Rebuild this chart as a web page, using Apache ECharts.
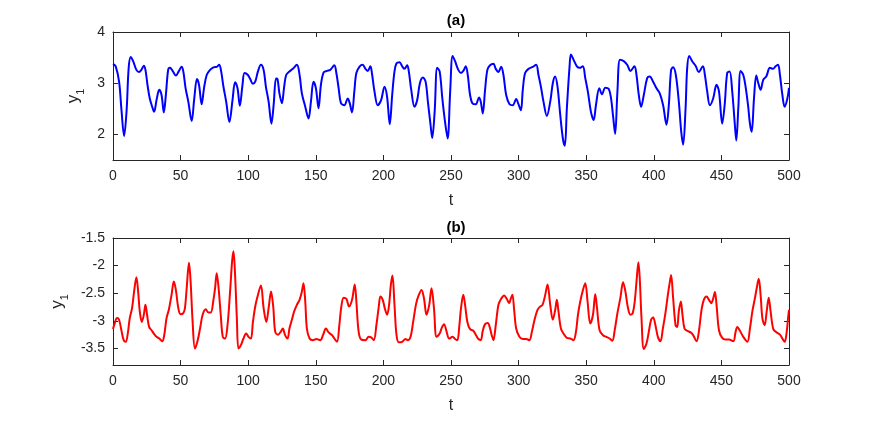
<!DOCTYPE html>
<html>
<head>
<meta charset="utf-8">
<script src="https://cdn.jsdelivr.net/npm/echarts@6/dist/echarts.min.js"></script>
<style>
  html, body { margin: 0; padding: 0; background: #fff; }
  #main { width: 872px; height: 433px; }
</style>
</head>
<body>
<div id="main"></div>
<script>
// panel (a): y1 over t
var tA = [0, 2, 4.5, 6.2, 8.2, 10, 11.6, 13.1, 14.9, 17.3, 19.3, 21, 22.8, 24, 25.5, 27.2, 29, 30.4, 32.2, 34.2,
  35.9, 37.6, 39.1, 40.8, 42.1, 44.1, 46.5, 48.8, 50.7, 52, 53.7, 55.7, 58.2, 60.1, 62.1, 63.6, 65.6, 67.3, 69.3, 71.8,
  74.3, 76.7, 78.5, 80, 81.7, 83.7, 86.1, 88.4, 90.3, 92.1, 93.8, 95.8, 97.3, 99.8, 101.5, 103.5, 105.2, 107.2, 109.4, 111.4,
  113.1, 115.1, 117.2, 118.8, 120.6, 121.7, 123.1, 124.9, 126.6, 128.1, 130.5, 133, 136, 138, 139.7, 142.2, 144.6, 146.4, 148.3, 150.1,
  152, 153.8, 155.8, 158.2, 160.7, 163.7, 165.2, 166.9, 168.6, 171.1, 173.6, 175.1, 176.8, 178.5, 180, 182.5, 184.7, 186.7, 188.4, 190.4,
  191.6, 193.4, 195.8, 198.3, 200.8, 202.7, 204.7, 206.5, 208.2, 209.7, 211.9, 213.9, 215.6, 217.6, 218.8, 220.6, 223, 225, 227, 229.2,
  231.2, 232.9, 234.9, 236.1, 237.9, 239.8, 241.6, 243.6, 245.8, 247.5, 249.4, 251.2, 253, 255.4, 257.4, 259.1, 260.9, 262.4, 264.1, 265.8,
  268.3, 270.7, 272, 273.5, 275.2, 276.9, 278.9, 281.4, 283.1, 285.1, 287.1, 288.8, 290.8, 293.3, 295.7, 298.2, 299.9, 301.7, 303.1, 304.8,
  307.3, 310.5, 313, 314.7, 316.5, 318.4, 320.9, 323.4, 325.3, 327, 328.8, 330.8, 332.8, 334.2, 335.7, 337.7, 338.7, 340.6, 343.1, 345.1,
  347.5, 349.3, 351.2, 353.5, 355.5, 357.2, 359.7, 361.7, 364.1, 366.6, 368.3, 369.9, 371.4, 373.1, 375, 377.8, 380.3, 382.8, 385.7, 387.2,
  388.9, 390.6, 392.6, 395.1, 397, 399.5, 402, 404.4, 406.9, 409.4, 411.1, 412.8, 414.3, 416.3, 418.5, 420.3, 421.7, 423.5, 424.7, 426.2,
  428.4, 430.9, 433.3, 436.3, 437.8, 439.5, 441.5, 443.9, 446.4, 448.2, 450.6, 452.4, 454.3, 456.1, 458, 459.8, 461, 462.5, 464.2, 466.2,
  467.9, 469.7, 471.1, 472.4, 474.1, 475.8, 477.3, 479, 481, 483.2, 485.9, 488.2, 490.1, 491.9, 493.3, 495.1, 496.8, 498.8, 500];
var yA = [3.375, 3.33, 3.03, 2.5, 1.97, 2.44, 3.3, 3.51, 3.43, 3.26, 3.22, 3.26, 3.34, 3.26, 2.97, 2.7, 2.54, 2.44, 2.67, 2.87,
  2.77, 2.43, 2.77, 3.26, 3.3, 3.24, 3.15, 3.24, 3.32, 3.23, 2.9, 2.64, 2.26, 2.7, 3.08, 2.97, 2.59, 2.9, 3.16, 3.26,
  3.31, 3.32, 3.36, 3.23, 2.93, 2.64, 2.24, 2.67, 3.02, 2.9, 2.56, 2.97, 3.2, 3.16, 3.08, 2.99, 3.03, 3.23, 3.36, 3.26,
  2.93, 2.64, 2.21, 2.57, 3.09, 3.08, 2.8, 2.61, 2.93, 3.16, 3.23, 3.28, 3.36, 3.16, 2.8, 2.54, 2.31, 2.64, 3.03, 2.9,
  2.51, 2.97, 3.21, 3.24, 3.26, 3.35, 3.2, 2.9, 2.61, 2.57, 2.7, 2.61, 2.43, 2.84, 3.2, 3.33, 3.36, 3.28, 3.24, 3.33,
  3.18, 2.84, 2.57, 2.67, 2.93, 2.74, 2.2, 2.77, 3.23, 3.39, 3.41, 3.33, 3.28, 3.35, 3.23, 2.87, 2.54, 2.67, 3.0, 3.11,
  3.03, 2.64, 2.18, 1.93, 2.44, 3.3, 3.23, 2.7, 2.2, 1.92, 2.84, 3.53, 3.43, 3.26, 3.2, 3.24, 3.33, 3.16, 2.77, 2.61,
  2.59, 2.72, 2.64, 2.41, 2.87, 3.26, 3.35, 3.38, 3.28, 3.22, 3.32, 3.16, 2.77, 2.59, 2.57, 2.69, 2.59, 2.47, 2.87, 3.2,
  3.28, 3.32, 3.36, 3.16, 2.93, 2.64, 2.36, 2.64, 3.0, 3.13, 2.93, 2.38, 1.91, 1.78, 2.51, 3.33, 3.56, 3.46, 3.33, 3.3,
  3.33, 3.1, 2.84, 2.44, 2.28, 2.57, 2.9, 2.78, 2.91, 2.89, 2.72, 2.35, 2.01, 2.84, 3.46, 3.43, 3.36, 3.24, 3.33, 3.16,
  2.77, 2.54, 2.77, 3.1, 3.13, 3.03, 2.9, 2.8, 2.57, 2.19, 2.57, 3.26, 3.31, 3.16, 2.64, 2.05, 1.8, 2.51, 3.3, 3.53,
  3.43, 3.34, 3.22, 3.33, 3.16, 2.84, 2.57, 2.7, 2.97, 2.84, 2.21, 2.57, 3.2, 3.23, 2.84, 2.24, 1.88, 2.51, 3.24, 3.16,
  2.93, 2.57, 2.21, 2.05, 2.7, 3.15, 3.0, 2.87, 3.07, 3.13, 3.3, 3.28, 3.33, 3.36, 3.16, 2.77, 2.54, 2.7, 2.91];

// panel (b): y1 over t
var tB = [0, 1.2, 3, 4.5, 6.2, 7.9, 9.4, 11.1, 12.4, 14.1, 15.6, 17.3, 18.6, 19.8, 21.3, 22.8, 24, 25.2, 26.7, 28.5,
  30.2, 32.2, 34.2, 36.4, 37.9, 39.6, 41.3, 43.3, 45, 46.5, 48.3, 50, 52, 53.2, 54.5, 56.2, 57.4, 58.9, 60.6, 62.4,
  64.4, 66.3, 68.6, 70.5, 72.3, 74.3, 75.5, 76.7, 78, 79.7, 81.2, 82.9, 84.7, 86.6, 88.1, 89.1, 90.3, 91.6, 92.8, 94.6,
  96.5, 98.5, 100.2, 102, 103.5, 105.2, 106.9, 109.4, 111.4, 113.4, 115.1, 116.9, 118.5, 120, 122.1, 124, 125.6, 127.3, 129.1, 130.5,
  132.3, 134, 136, 138, 139.7, 140.9, 142.2, 143.4, 145.4, 147.9, 150.3, 153.3, 155.3, 157.5, 159.5, 162, 163.7, 165.7, 167.4, 168.9,
  170.6, 172.6, 174.6, 176.8, 178.8, 180, 181.7, 183.7, 186.7, 189.1, 190.9, 192.9, 194.8, 196.6, 197.8, 199.5, 201, 202.7, 204.2, 205.5,
  206.7, 208.2, 209.7, 211.4, 213.9, 216.3, 218.1, 220.1, 222, 224.3, 226.2, 228.2, 230, 231.9, 233.9, 235.6, 237.4, 239.3, 241.6, 243.3,
  244.8, 246.8, 248.6, 251.2, 253, 254.7, 256.2, 257.4, 259.1, 260.4, 262.1, 264.1, 266.5, 268.5, 270.3, 272, 273.5, 275.2, 277.2, 278.9,
  280.1, 281.4, 283.1, 285.1, 287.1, 289.3, 291.2, 293, 294.2, 295.4, 296.7, 298.2, 300.6, 303.1, 305.6, 308, 309.8, 311.8, 314, 316,
  317.7, 319.7, 321.4, 323.4, 325.3, 327.1, 328.3, 329.5, 331.3, 333.2, 335.7, 338.2, 340.6, 342.4, 343.9, 345.6, 347.6, 349.3, 351, 353,
  355, 356.7, 358, 359.9, 362.4, 364.9, 367.3, 369.3, 371.2, 373.1, 375.3, 377.3, 379, 380.7, 382.7, 384.4, 385.9, 387.2, 388.6, 389.6,
  390.9, 392.6, 394.6, 396.3, 398, 399.5, 401.2, 403, 404.9, 406.7, 408.6, 410.4, 411.9, 412.8, 414.3, 416.1, 417.3, 418.5, 420, 421.2,
  422.7, 424.7, 427.2, 429.1, 431.6, 433.3, 435.3, 437, 439, 440.8, 442.5, 444, 445.2, 446.4, 448.2, 450.6, 453.1, 455.6, 458.8, 460.5,
  461.8, 463.7, 466.2, 469.2, 471.1, 472.9, 474.8, 476.1, 477.6, 479, 480.3, 482, 483.5, 485, 486.4, 488.4, 490.9, 493.3, 495.1, 496.8,
  498.3, 499.3, 500];
var yB = [-3.15, -3.05, -2.95, -2.98, -3.17, -3.35, -3.38, -3.2, -2.95, -2.77, -2.47, -2.21, -2.47, -2.83, -3.02, -2.89, -2.71, -2.89, -3.11, -3.17,
  -3.23, -3.29, -3.32, -3.37, -3.26, -2.95, -2.8, -2.53, -2.29, -2.44, -2.77, -2.88, -2.86, -2.77, -2.41, -1.95, -2.29, -3.02, -3.5, -3.38,
  -3.14, -2.89, -2.79, -2.85, -2.85, -2.62, -2.41, -2.14, -2.38, -2.89, -3.29, -3.32, -3.08, -2.47, -1.92, -1.74, -2.17, -2.95, -3.5, -3.44,
  -3.32, -3.23, -3.29, -3.32, -3.02, -2.74, -2.56, -2.36, -2.77, -3.02, -2.77, -2.47, -2.74, -3.2, -3.25, -3.2, -3.14, -3.26, -3.32, -3.14,
  -2.98, -2.83, -2.71, -2.62, -2.47, -2.32, -2.65, -3.14, -3.32, -3.35, -3.33, -3.35, -3.26, -3.14, -3.21, -3.26, -3.32, -3.38, -3.08, -2.74,
  -2.58, -2.6, -2.74, -2.62, -2.34, -2.65, -3.2, -3.34, -3.35, -3.29, -3.3, -3.35, -3.08, -2.74, -2.56, -2.62, -2.77, -2.89, -2.71, -2.35,
  -2.18, -2.71, -3.26, -3.39, -3.38, -3.33, -3.35, -3.29, -3.02, -2.68, -2.53, -2.44, -2.59, -2.89, -2.71, -2.41, -2.77, -3.29, -3.23, -3.12,
  -3.06, -3.2, -3.32, -3.29, -3.33, -3.35, -3.08, -2.77, -2.53, -2.71, -3.02, -3.15, -3.18, -3.26, -3.33, -3.35, -3.18, -3.06, -3.04, -3.14,
  -3.26, -3.35, -3.08, -2.71, -2.6, -2.54, -2.6, -2.68, -2.6, -2.53, -2.8, -3.14, -3.29, -3.33, -3.33, -3.35, -3.2, -2.98, -2.8, -2.74,
  -2.71, -2.53, -2.34, -2.71, -2.98, -2.8, -2.62, -2.83, -3.14, -3.23, -3.31, -3.32, -3.35, -3.2, -2.89, -2.65, -2.44, -2.32, -2.65, -3.05,
  -2.89, -2.52, -2.77, -3.17, -3.26, -3.29, -3.32, -3.36, -3.15, -2.86, -2.58, -2.3, -2.47, -2.74, -2.89, -2.86, -2.65, -2.29, -1.94, -2.23,
  -2.95, -3.51, -3.41, -3.2, -2.98, -2.94, -3.08, -3.29, -3.37, -3.14, -2.86, -2.53, -2.29, -2.17, -2.59, -3.08, -3.11, -2.83, -2.65, -2.89,
  -3.14, -3.18, -3.21, -3.26, -3.37, -3.2, -2.8, -2.62, -2.56, -2.62, -2.68, -2.59, -2.48, -2.71, -3.17, -3.31, -3.34, -3.34, -3.37, -3.2,
  -3.11, -3.18, -3.29, -3.38, -3.14, -2.83, -2.59, -2.41, -2.24, -2.53, -2.95, -3.08, -2.83, -2.58, -2.83, -3.15, -3.21, -3.25, -3.32, -3.38,
  -3.2, -2.95, -2.8];

var xTicks = [0, 50, 100, 150, 200, 250, 300, 350, 400, 450, 500];
var yTicksA = [2, 3, 4];
var yTicksB = [-3.5, -3, -2.5, -2, -1.5];

function pairs(t, y) {
  var out = [];
  for (var i = 0; i < t.length; i++) out.push([t[i], y[i]]);
  return out;
}

var ink = '#262626';
var font = 'Liberation Sans, Arial, Helvetica, sans-serif';

function xAx(gi, pos) {
  var main = pos === 'bottom';
  return {
    type: 'value', gridIndex: gi, position: pos, min: 0, max: 500, interval: 50,
    name: main ? 't' : '', nameLocation: 'middle', nameGap: 33,
    nameTextStyle: { color: ink, fontSize: 16, fontFamily: font },
    axisLine: { show: true, onZero: false, lineStyle: { color: ink, width: 1 } },
    axisTick: { show: true, inside: true, length: 5, customValues: xTicks, lineStyle: { color: ink } },
    axisLabel: { show: main, color: ink, fontSize: 14, fontFamily: font, margin: 9, customValues: xTicks },
    splitLine: { show: false }
  };
}
function yAx(gi, pos, mn, mx, ticks) {
  var main = pos === 'left';
  return {
    type: 'value', gridIndex: gi, position: pos, min: mn, max: mx,
    name: main ? '{y|y}{s|1}' : '', nameLocation: 'middle', nameGap: 18,
    nameTextStyle: {
      color: ink, fontFamily: font,
      rich: {
        y: { fontSize: 17, fontFamily: font, color: ink, lineHeight: 26, verticalAlign: 'middle' },
        s: { fontSize: 11, fontFamily: font, color: ink, lineHeight: 26, verticalAlign: 'bottom' }
      }
    },
    axisLine: { show: true, onZero: false, lineStyle: { color: ink, width: 1 } },
    axisTick: { show: true, inside: true, length: 5, customValues: ticks, lineStyle: { color: ink } },
    axisLabel: { show: main, color: ink, fontSize: 14, fontFamily: font, margin: 8, customValues: ticks },
    splitLine: { show: false }
  };
}

var option = {
  backgroundColor: '#fff',
  animation: false,
  title: [
    { text: '(a)', left: 451, top: 8, textAlign: 'center',
      textStyle: { color: '#000', fontSize: 15, fontWeight: 'bold', fontFamily: font } },
    { text: '(b)', left: 451, top: 215, textAlign: 'center',
      textStyle: { color: '#000', fontSize: 15, fontWeight: 'bold', fontFamily: font } }
  ],
  grid: [
    { left: 113, top: 32, width: 676, height: 128 },
    { left: 113, top: 238, width: 676, height: 127 }
  ],
  xAxis: [xAx(0, 'bottom'), xAx(0, 'top'), xAx(1, 'bottom'), xAx(1, 'top')],
  yAxis: [
    yAx(0, 'left', 1.5, 4, yTicksA), yAx(0, 'right', 1.5, 4, yTicksA),
    yAx(1, 'left', -3.8, -1.5, yTicksB), yAx(1, 'right', -3.8, -1.5, yTicksB)
  ],
  series: [
    { type: 'line', xAxisIndex: 0, yAxisIndex: 0, data: pairs(tA, yA), smooth: 0.35,
      showSymbol: false, lineStyle: { color: '#0000ff', width: 2 } },
    { type: 'line', xAxisIndex: 2, yAxisIndex: 2, data: pairs(tB, yB), smooth: 0.35,
      showSymbol: false, lineStyle: { color: '#ff0000', width: 2 } }
  ]
};
echarts.init(document.getElementById('main')).setOption(option);
</script>
</body>
</html>
